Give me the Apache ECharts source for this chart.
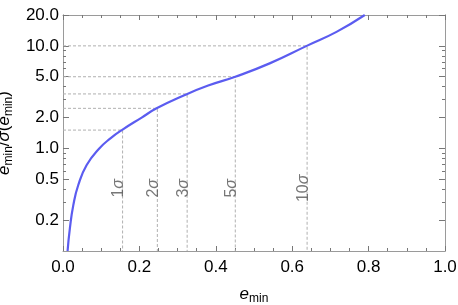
<!DOCTYPE html>
<html><head><meta charset="utf-8">
<script src="https://cdn.jsdelivr.net/npm/echarts@6/dist/echarts.min.js"></script>
<style>html,body{margin:0;padding:0;background:#fff}#c{width:458px;height:305px}</style>
</head><body><div id="c"></div>
<script>
// curve e_min vs e_min/sigma(e_min)
const curveX = [0.012, 0.018, 0.027, 0.040, 0.062, 0.095, 0.125, 0.154, 0.206, 0.245, 0.319, 0.38, 0.451, 0.541, 0.638, 0.716, 0.79];
const curveY = [0.1, 0.166, 0.28, 0.44, 0.69, 1.0, 1.26, 1.51, 2.0, 2.46, 3.32, 4.1, 5.0, 6.75, 10.0, 13.7, 20.0];
// significance markers
const sigLabels = ['1', '2', '3', '5', '10'];
const sigX = [0.156, 0.247, 0.325, 0.451, 0.639];
const sigY = [1.51, 2.46, 3.4, 5.0, 10.0];
const sigLabelY = 0.5;
// ticks
const yMajor = [0.2, 0.5, 1, 2, 5, 10, 20];
const yMinor = [0.3, 0.4, 0.6, 0.7, 0.8, 0.9, 3, 4, 6, 7, 8, 9];
const xMin = 0, xMax = 1, xStep = 0.2, yMin = 0.1, yMax = 20;

const FONT = 'Liberation Sans';
const AXC = '#9a9a9a';
const chart = echarts.init(document.getElementById('c'));

function yAx(pos, vals, len, labels, extra) {
  return Object.assign({
    type: 'log', min: yMin, max: yMax, position: pos,
    axisLine: {show: true, lineStyle: {color: AXC, width: 1}},
    axisTick: {show: true, inside: true, length: len, lineStyle: {color: '#777'}, customValues: vals},
    axisLabel: {show: labels, customValues: vals, margin: 4, color: '#000', fontFamily: FONT, fontSize: 17,
      formatter: v => Number(v).toFixed(1)},
    splitLine: {show: false}, minorTick: {show: false}
  }, extra || {});
}
function xAx(pos, labels, extra) {
  return Object.assign({
    type: 'value', min: xMin, max: xMax, interval: xStep, position: pos,
    axisLine: {show: true, lineStyle: {color: AXC, width: 1}},
    axisTick: {show: true, inside: true, length: 5, lineStyle: {color: '#777'}},
    minorTick: {show: true, splitNumber: 4, length: 3, lineStyle: {color: '#777'}},
    axisLabel: {show: labels, margin: 8, color: '#000', fontFamily: FONT, fontSize: 17,
      formatter: v => v.toFixed(1)},
    splitLine: {show: false}
  }, extra || {});
}

const dashSeries = sigX.map((x, i) => ({
  type: 'line', xAxisIndex: 0, yAxisIndex: 0, symbol: 'none', silent: true,
  lineStyle: {color: '#b0b0b0', width: 1, type: [3, 2]},
  data: [[xMin, sigY[i]], [x, sigY[i]], [x, yMin]], z: 1
}));

chart.setOption({
  animation: false,
  grid: {left: 63, right: 13, top: 15, bottom: 54, outerBoundsMode: 'none', containLabel: false},
  xAxis: [
    xAx('bottom', true, {
      name: '{i|e}{s|min}', nameLocation: 'middle', nameGap: 33,
      nameTextStyle: {rich: {
        i: {fontFamily: FONT, fontSize: 17, fontStyle: 'italic', color: '#000'},
        s: {fontFamily: FONT, fontSize: 12, color: '#000', padding: [9, 0, 0, 0]}
      }}
    }),
    xAx('top', false)
  ],
  yAxis: [
    yAx('left', yMajor, 6, true, {
      name: '{i|e}{s|min}{n|/}{i|σ}{n|(}{i|e}{s|min}{n|)}', nameLocation: 'middle', nameGap: 35, nameRotate: 90,
      nameTextStyle: {rich: {
        i: {fontFamily: FONT, fontSize: 17, fontStyle: 'italic', color: '#000'},
        n: {fontFamily: FONT, fontSize: 17, color: '#000'},
        s: {fontFamily: FONT, fontSize: 12, color: '#000', padding: [9, 0, 0, 0]}
      }}
    }),
    yAx('left', yMinor, 3, false),
    yAx('right', yMajor, 6, false),
    yAx('right', yMinor, 3, false)
  ],
  series: dashSeries.concat([
    {
      type: 'line', xAxisIndex: 0, yAxisIndex: 0, symbol: 'none', smooth: 0.5,
      lineStyle: {color: '#5b5cf0', width: 2.2}, z: 5,
      data: curveX.map((x, i) => [x, curveY[i]])
    },
    {
      type: 'scatter', xAxisIndex: 0, yAxisIndex: 0, symbolSize: 1, silent: true,
      itemStyle: {color: 'rgba(0,0,0,0)'}, z: 4,
      label: {show: true, position: 'inside', rotate: 90, offset: [-9, -4],
        formatter: p => '{n|' + sigLabels[p.dataIndex] + '}{i|σ}',
        rich: {
          n: {fontFamily: FONT, fontSize: 16, color: '#555'},
          i: {fontFamily: FONT, fontSize: 16, fontStyle: 'italic', color: '#555'}
        }},
      data: sigX.map(x => [x, sigLabelY])
    }
  ])
});
</script></body></html>
